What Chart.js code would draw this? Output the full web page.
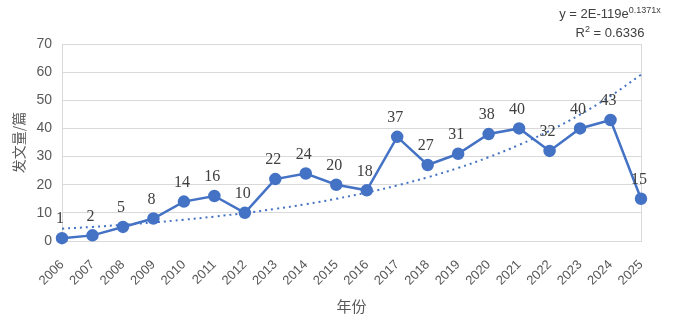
<!DOCTYPE html>
<html>
<head>
<meta charset="utf-8">
<script src="https://cdn.jsdelivr.net/npm/chart.js@4"></script>
<style>
  body { margin: 0; background: #fff; }
  #wrap { position: relative; width: 675px; height: 333px; }
  #eq { position: absolute; left: 548px; top: 4px; width: 124px; text-align: center;
        font-family: "Liberation Sans", sans-serif; font-size: 13px; color: #404040; line-height: 19px; }
  #eq sup { font-size: 9px; line-height: 0; }
</style>
</head>
<body>
<div id="wrap">
  <canvas id="chart" width="675" height="333"></canvas>
  <div id="eq">y = 2E-119e<sup>0.1371x</sup><br>R<sup>2</sup> = 0.6336</div>
</div>
<script>
const years = ['2006','2007','2008','2009','2010','2011','2012','2013','2014','2015',
               '2016','2017','2018','2019','2020','2021','2022','2023','2024','2025'];
const papers = [1, 2, 5, 8, 14, 16, 10, 22, 24, 20, 18, 37, 27, 31, 38, 40, 32, 40, 43, 15];
// dotted exponential trend
const trend = [4.37, 5.01, 5.75, 6.59, 7.56, 8.67, 9.95, 11.41, 13.08, 15.00,
               17.21, 19.74, 22.64, 25.96, 29.78, 34.15, 39.16, 44.92, 51.52, 59.08];

const blue = '#4472C4';
const grid = '#D9D9D9';

const labelPlugin = {
    id: 'pointLabels',
    afterDatasetsDraw(chart) {
        const ctx = chart.ctx;
        const meta = chart.getDatasetMeta(0);
        ctx.save();
        ctx.font = '16px "Liberation Serif", serif';
        ctx.fillStyle = '#404040';
        ctx.textAlign = 'center';
        ctx.textBaseline = 'bottom';
        meta.data.forEach((pt, i) => {
            ctx.fillText(String(papers[i]), pt.x - 2, pt.y - 11);
        });
        ctx.restore();
    }
};

const borderPlugin = {
    id: 'areaBorder',
    beforeDatasetsDraw(chart) {
        const a = chart.chartArea;
        const ctx = chart.ctx;
        ctx.save();
        ctx.strokeStyle = grid;
        ctx.lineWidth = 1;
        ctx.strokeRect(Math.round(a.left) + 0.5, Math.round(a.top) + 0.5,
                       Math.round(a.right - a.left), Math.round(a.bottom - a.top));
        ctx.restore();
    }
};

new Chart(document.getElementById('chart'), {
    type: 'line',
    data: {
        labels: years,
        datasets: [
            {
                data: papers,
                borderColor: blue,
                backgroundColor: blue,
                borderWidth: 2.5,
                pointRadius: 5,
                pointHoverRadius: 5,
                tension: 0,
                clip: false
            },
            {
                data: trend,
                borderColor: blue,
                borderWidth: 2,
                borderDash: [2, 4],
                pointRadius: 0,
                tension: 0.4,
                clip: false
            }
        ]
    },
    options: {
        responsive: false,
        animation: false,
        events: [],
        layout: { padding: { top: 44, right: 34, bottom: 18, left: 0 } },
        plugins: { legend: { display: false }, tooltip: { enabled: false } },
        scales: {
            x: {
                offset: false,
                grid: { display: false, drawTicks: false },
                border: { color: grid },
                ticks: {
                    maxRotation: 45, minRotation: 45, autoSkip: false, padding: 16,
                    color: '#595959',
                    font: { family: '"Liberation Sans", sans-serif', size: 13 }
                },
                title: {
                    display: true, text: '年份', color: '#595959',
                    font: { family: '"Noto Sans CJK SC", sans-serif', size: 15 },
                    padding: { top: 4, bottom: 0 }
                },
                afterFit(scale) { scale.height = 74; }
            },
            y: {
                min: 0, max: 70,
                grid: { color: grid, drawTicks: false },
                border: { color: grid },
                ticks: {
                    stepSize: 10, padding: 10, color: '#595959',
                    font: { family: '"Liberation Sans", sans-serif', size: 14 }
                },
                title: {
                    display: true, text: '发文量/篇', color: '#595959',
                    font: { family: '"Noto Sans CJK SC", sans-serif', size: 14 },
                    padding: { top: 10, bottom: 0 }
                },
                afterFit(scale) { scale.width = 62; }
            }
        }
    },
    plugins: [labelPlugin, borderPlugin]
});
</script>
</body>
</html>
